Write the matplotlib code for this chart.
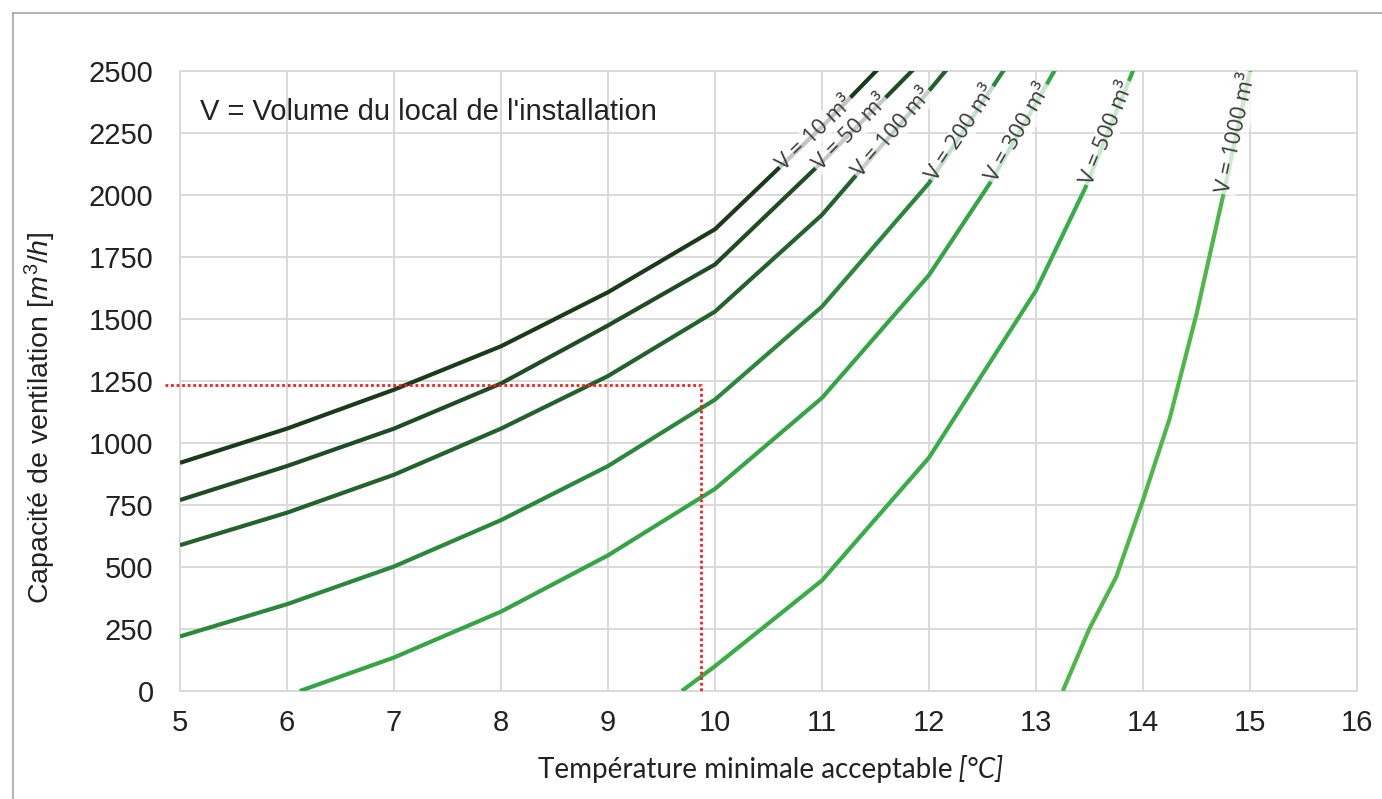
import numpy as np
import matplotlib
matplotlib.use("Agg")
import matplotlib.pyplot as plt
from matplotlib.lines import Line2D

plt.rcParams['font.family'] = ['Liberation Sans', 'DejaVu Sans']
plt.rcParams['mathtext.fontset'] = 'custom'
plt.rcParams['mathtext.rm'] = 'Liberation Sans'
plt.rcParams['mathtext.it'] = 'Liberation Sans:italic'

# ---- data ----
labels = ["V = 10 m³", "V = 50 m³", "V = 100 m³", "V = 200 m³",
          "V = 300 m³", "V = 500 m³", "V = 1000 m³"]

x_v10 = [5, 6, 7, 8, 9, 10, 11, 12]
y_v10 = [920, 1058, 1215, 1390, 1608, 1862, 2275, 2720]

x_v50 = [5, 6, 7, 8, 9, 10, 11, 12]
y_v50 = [770, 907, 1058, 1240, 1474, 1720, 2133, 2570]

x_v100 = [5, 6, 7, 8, 9, 10, 11, 12, 12.5]
y_v100 = [588, 719, 872, 1058, 1270, 1530, 1920, 2420, 2680]

x_v200 = [5, 6, 7, 8, 9, 10, 11, 12, 13]
y_v200 = [220, 350, 502, 689, 907, 1175, 1550, 2048, 2700]

x_v300 = [6.12, 7, 8, 9, 10, 11, 12, 12.57, 13, 13.5]
y_v300 = [0, 135, 320, 547, 815, 1182, 1677, 2048, 2370, 2750]

x_v500 = [9.69, 10, 11, 12, 13, 13.46, 14]
y_v500 = [0, 100, 446, 941, 1615, 2028, 2600]

x_v1000 = [13.25, 13.5, 13.75, 14, 14.25, 14.5, 14.75, 15, 15.25]
y_v1000 = [0, 252, 460, 770, 1100, 1520, 2000, 2500, 3000]

series_x = [x_v10, x_v50, x_v100, x_v200, x_v300, x_v500, x_v1000]
series_y = [y_v10, y_v50, y_v100, y_v200, y_v300, y_v500, y_v1000]
colors = ["#1b3a1c", "#1f4c24", "#23612d", "#2a873c", "#35a447", "#38ad47", "#4db848"]

ref_x = [4.86, 9.87, 9.87]
ref_y = [1232, 1232, 0]

x_ticks = list(range(5, 17))
y_ticks = list(range(0, 2501, 250))
label_y = 2250

# ---- figure ----
W, H = 1382, 799
fig = plt.figure(figsize=(W / 100, H / 100), dpi=100)
ax = fig.add_axes([180 / W, (H - 691) / H, (1357 - 180) / W, (691 - 71) / H])
ax.set_xlim(5, 16)
ax.set_ylim(0, 2500)
ax.set_xticks(x_ticks)
ax.set_yticks(y_ticks)
ax.grid(True, color="#d9d9d9", linewidth=1.4)
ax.set_axisbelow(True)
for s in ax.spines.values():
    s.set_color("#d9d9d9")
    s.set_linewidth(1.4)
ax.tick_params(axis="both", length=0, labelsize=21, colors="#222222")
ax.tick_params(axis="y", pad=19)
ax.tick_params(axis="x", pad=13)

for xs, ys, c in zip(series_x, series_y, colors):
    ax.plot(xs, ys, color=c, linewidth=3.0, solid_capstyle="butt",
            solid_joinstyle="round", zorder=3)

ax.plot(ref_x, ref_y, color="#ff1a1a", linestyle=(0, (1, 1)), linewidth=2.0,
        zorder=4, clip_on=False)

# curve labels along the curves
for xs, ys, lab in zip(series_x, series_y, labels):
    xs = np.asarray(xs, float)
    ys = np.asarray(ys, float)
    xl = np.interp(label_y, ys, xs)
    d = 0.05
    p1 = ax.transData.transform((xl - d, np.interp(xl - d, xs, ys)))
    p2 = ax.transData.transform((xl + d, np.interp(xl + d, xs, ys)))
    ang = np.degrees(np.arctan2(p2[1] - p1[1], p2[0] - p1[0]))
    ax.text(xl, label_y, lab, rotation=ang, rotation_mode="anchor",
            ha="center", va="center", fontsize=16, family=["Open Sans", "DejaVu Sans"],
            color="#3a3a3a", zorder=5,
            bbox=dict(boxstyle="square,pad=0.06", facecolor="white",
                      edgecolor="none", alpha=0.72))

ax.text(5.19, 2335, "V = Volume du local de l'installation", fontsize=21,
        ha="left", va="center", color="#222222", zorder=6)

# axis titles
fig.text(40 / W, (H - 418) / H, r"Capacité de ventilation $\mathit{[m^{3}/h]}$",
         rotation=90, ha="center", va="center", fontsize=20.5, color="#222222")
t1 = fig.text(745 / W, (H - 770) / H, "Température minimale acceptable",
              ha="center", va="center", fontsize=20, color="#222222",
              family=["Lato", "DejaVu Sans"])
ax.annotate(" [°C]", xy=(1, 0), xycoords=t1, ha="left", va="bottom",
            fontsize=20, fontstyle="italic", color="#222222",
            family=["Lato", "DejaVu Sans"], annotation_clip=False)

# outer frame
fig.add_artist(Line2D([13 / W, 13 / W], [0, 1 - 13 / H], transform=fig.transFigure,
                      color="#a6a6a6", linewidth=1.2))
fig.add_artist(Line2D([13 / W, 1], [1 - 13 / H, 1 - 13 / H], transform=fig.transFigure,
                      color="#a6a6a6", linewidth=1.2))

fig.savefig("out.png", dpi=100)
